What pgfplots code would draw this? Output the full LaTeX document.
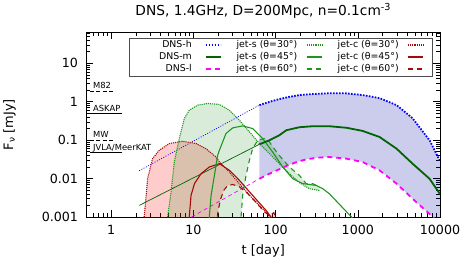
\documentclass[border=0pt]{standalone}
\usepackage{fontspec}
\setmainfont{DejaVu Sans}
\usepackage{pgfplots}
\pgfplotsset{compat=1.18}
\definecolor{dnsh}{RGB}{0,0,255}
\definecolor{dnsm}{RGB}{0,100,0}
\definecolor{dnsl}{RGB}{255,0,255}
\definecolor{jets}{RGB}{30,150,30}
\definecolor{jetc}{RGB}{165,10,10}
\definecolor{lav}{RGB}{0,0,160}
\begin{document}
\begin{tikzpicture}
\useasboundingbox (-86.5bp,-47bp) rectangle (376.5bp,217bp);
\begin{axis}[
  scale only axis, width=353.5bp, height=184.7bp,
  xmode=log, ymode=log, xmin=0.5, xmax=10000, ymin=0.001, ymax=64,
  log ticks with fixed point,
  /pgf/number format/assume math mode=true,
  /pgf/number format/precision=3,
  /pgf/number format/1000 sep={},
  tick label style={font=\fontsize{12.7}{14}\selectfont},
  xticklabel style={yshift=-5bp},
  yticklabel style={xshift=-5bp},
  major tick length=7bp, minor tick length=4bp,
  axis line style={line width=0.8bp},
  every tick/.style={black, line width=0.6bp},
  title={DNS, 1.4GHz, D=200Mpc, n=0.1cm\textsuperscript{-3}},
  every axis title/.style={at={(axis description cs:0.5,1.0883)}, anchor=base, font=\fontsize{13.8}{16}\selectfont},
  xlabel={t [day]},
  xlabel style={at={(axis description cs:0.5,-0.184)}, anchor=center, font=\fontsize{13}{15}\selectfont},
  ylabel={F\textsubscript{ν} [mJy]},
  ylabel style={at={(axis description cs:-0.218,0.5)}, anchor=center, font=\fontsize{13}{15}\selectfont},
  legend columns=3,
  legend plot pos=right,
  legend style={at={(rel axis cs:0.9774,0.969)}, anchor=north east, draw=black!70, line width=0.5bp,
    font=\fontsize{9.4}{9.4}\selectfont, inner xsep=8bp, inner ysep=0.75bp, row sep=0bp,
    nodes={inner xsep=0bp, inner ysep=1.25bp, text height=7bp, text depth=2.5bp},
    /tikz/every odd column/.append style={column sep=8bp},
    /tikz/every even column/.append style={column sep=15bp}},
  legend image code/.code={\draw[#1] (0bp,0bp) -- (15bp,0bp);},
]
% legend
\addlegendimage{dnsh, line width=1.8bp, dash pattern=on 1.6bp off 1.4bp}
\addlegendentry{\makebox[60bp][r]{DNS-h\hspace*{5bp}}}
\addlegendimage{jets, line width=1.1bp, densely dotted}
\addlegendentry{\makebox[62bp][l]{jet-s (θ=30°)}}
\addlegendimage{jetc, line width=1.1bp, densely dotted}
\addlegendentry{\makebox[62bp][l]{jet-c (θ=30°)}}
\addlegendimage{dnsm, line width=1.8bp}
\addlegendentry{\makebox[60bp][r]{DNS-m\hspace*{5bp}}}
\addlegendimage{jets, line width=1.1bp}
\addlegendentry{\makebox[62bp][l]{jet-s (θ=45°)}}
\addlegendimage{jetc, line width=1.1bp}
\addlegendentry{\makebox[62bp][l]{jet-c (θ=45°)}}
\addlegendimage{dnsl, line width=1.8bp, dash pattern=on 5bp off 4bp}
\addlegendentry{\makebox[60bp][r]{DNS-l\hspace*{5bp}}}
\addlegendimage{jets, line width=1.1bp, dash pattern=on 5bp off 4bp}
\addlegendentry{\makebox[62bp][l]{jet-s (θ=60°)}}
\addlegendimage{jetc, line width=1.1bp, dash pattern=on 5bp off 4bp}
\addlegendentry{\makebox[62bp][l]{jet-c (θ=60°)}}

% DNS band
\addplot[draw=none, fill=lav, fill opacity=0.2, forget plot] coordinates {
(63.5,0.815) (85,1.0) (111,1.17) (150,1.35) (200,1.5) (281,1.58) (450,1.66) (728,1.65) (1140,1.49) (1837,1.24) (2960,0.815) (4630,0.373) (7460,0.099) (9890,0.030) (10000,0.028)
(10000,0.0006) (8800,0.00085) (7460,0.0012) (4630,0.0030) (2960,0.0074) (1837,0.0164) (1140,0.027) (728,0.033) (452,0.0364) (320,0.035) (237,0.0317) (180,0.027) (135,0.0212) (111,0.0175) (85,0.0135) (63.5,0.0099)};
% jet-c band
\addplot[draw=none, fill=red, fill opacity=0.2, forget plot] coordinates {
(2.45,0.0006) (2.52,0.001) (2.77,0.0099) (3.18,0.033) (3.84,0.0545) (5.09,0.0815) (7.38,0.0936) (10.8,0.0815) (14.2,0.060) (18.8,0.0364) (20.7,0.027) (27.4,0.0148) (36.2,0.0074) (52.6,0.0030) (76.6,0.00133) (84,0.001) (88,0.0008)
(105,0.0008) (95,0.0013) (85,0.0011) (75,0.0013) (65,0.0018) (55,0.0027) (45,0.0042) (36,0.0062) (30,0.007) (26,0.0065) (23.5,0.005) (21.5,0.003) (20,0.0015) (19.3,0.0008) (19,0.0006)};
% jet-s band
\addplot[draw=none, fill=green!50!black, fill opacity=0.15, forget plot] coordinates {
(4.8,0.0006) (4.85,0.001) (5.34,0.0044) (5.85,0.027) (6.73,0.110) (7.75,0.366) (8.9,0.60) (11.3,0.815) (14.9,0.90) (20.7,0.85) (27.4,0.60) (36.2,0.33) (48,0.164) (63.5,0.0815) (84,0.0447) (111,0.0245) (147,0.0134) (195,0.0078) (258,0.00545) (342,0.0049)
(342,0.006) (281,0.0074) (235,0.0074) (195,0.0121) (147,0.020) (106,0.0447) (84,0.090) (73,0.110) (60.5,0.099) (52.6,0.060) (48,0.030) (43.7,0.0121) (39.7,0.00364) (38,0.001) (37.5,0.0006)};

% DNS thin parts
\addplot[dnsh, line width=0.7bp, dash pattern=on 1bp off 1.5bp, forget plot] coordinates {(2.19,0.016) (63.5,0.815)};
\addplot[dnsm, line width=0.7bp, forget plot] coordinates {(2.19,0.002) (63.5,0.078)};
\addplot[dnsl, line width=0.7bp, dash pattern=on 4bp off 3bp, forget plot] coordinates {(9.5,0.001) (63.5,0.0099)};

% jet-c
\addplot[jetc, line width=1.1bp, densely dotted, forget plot] coordinates {
(2.45,0.0006) (2.52,0.001) (2.77,0.0099) (3.18,0.033) (3.84,0.0545) (5.09,0.0815) (7.38,0.0936) (10.8,0.0815) (14.2,0.060) (18.8,0.0364) (20.7,0.027) (27.4,0.0148) (36.2,0.0074) (52.6,0.0030) (76.6,0.00133) (84,0.001) (88,0.0008)};
\addplot[jetc, line width=1.1bp, forget plot] coordinates {
(8.85,0.0008) (8.9,0.001) (9.35,0.00364) (10.3,0.0074) (12.4,0.0134) (15.6,0.020) (20.7,0.0245) (27.4,0.0164) (36.2,0.009) (52.6,0.00364) (76.6,0.00148) (88,0.001) (92,0.0008)};
\addplot[jetc, line width=1.1bp, dash pattern=on 5bp off 4bp, forget plot] coordinates {
(19,0.0006) (19.3,0.0008) (20,0.0015) (21.5,0.003) (23.5,0.005) (26,0.0065) (30,0.007) (36,0.0062) (45,0.0042) (55,0.0027) (65,0.0018) (75,0.0013) (85,0.0011) (95,0.0013) (105,0.0008)};

% jet-s
\addplot[jets, line width=1.1bp, densely dotted, forget plot] coordinates {
(4.8,0.0006) (4.85,0.001) (5.34,0.0044) (5.85,0.027) (6.73,0.110) (7.75,0.366) (8.9,0.60) (11.3,0.815) (14.9,0.90) (20.7,0.85) (27.4,0.60) (36.2,0.33) (48,0.164) (63.5,0.0815) (84,0.0447) (111,0.0245) (147,0.0134) (195,0.0078) (258,0.00545) (342,0.0049)};
\addplot[jets, line width=1.1bp, forget plot] coordinates {
(15.4,0.0007) (15.6,0.001) (16.4,0.00364) (18.0,0.0121) (19.7,0.040) (20.7,0.0545) (24.9,0.149) (30,0.208) (39.7,0.235) (52.6,0.20) (69.6,0.110) (92,0.049) (122,0.020) (162,0.0099) (214,0.0074) (311,0.00664) (375,0.00545) (452,0.0040) (838,0.001) (870,0.0009)};
\addplot[jets, line width=1.1bp, dash pattern=on 5bp off 4bp, forget plot] coordinates {
(37.5,0.0006) (38,0.001) (39.7,0.00364) (43.7,0.0121) (48,0.030) (52.6,0.060) (60.5,0.099) (73,0.110) (84,0.090) (106,0.0447) (147,0.020) (195,0.0121) (235,0.0074) (281,0.0074) (342,0.006)};

% DNS thick parts
\addplot[dnsh, line width=1.8bp, dash pattern=on 1.6bp off 1.4bp, forget plot] coordinates {
(63.5,0.815) (85,1.0) (111,1.17) (150,1.35) (200,1.5) (281,1.58) (450,1.66) (728,1.65) (1140,1.49) (1837,1.24) (2960,0.815) (4630,0.373) (7460,0.099) (9890,0.030) (10000,0.028)};
\addplot[dnsm, line width=1.8bp, forget plot] coordinates {
(63.5,0.078) (84,0.099) (111,0.134) (135,0.181) (195,0.217) (281,0.23) (452,0.23) (728,0.21) (1140,0.174) (1837,0.121) (2960,0.060) (4630,0.0245) (7460,0.0099) (9890,0.0041) (10000,0.0039)};
\addplot[dnsl, line width=1.8bp, dash pattern=on 5bp off 4bp, forget plot] coordinates {
(63.5,0.0099) (85,0.0135) (111,0.0175) (135,0.0212) (180,0.027) (237,0.0317) (320,0.035) (452,0.0364) (728,0.033) (1140,0.027) (1837,0.0164) (2960,0.0074) (4630,0.0030) (7460,0.0012) (8800,0.00085) (10000,0.0006)};

% sensitivities
\addplot[black, line width=1.1bp, dash pattern=on 4bp off 2.5bp, forget plot] coordinates {(0.55,1.81) (1.11,1.81)};
\addplot[black, line width=1.1bp, forget plot] coordinates {(0.55,0.495) (1.37,0.495)};
\addplot[black, line width=1.1bp, dash pattern=on 4bp off 2.5bp, forget plot] coordinates {(0.55,0.1) (1.11,0.1)};
\addplot[black, line width=1.1bp, forget plot] coordinates {(0.55,0.047) (1.37,0.047)};
\node[anchor=base west, inner sep=0pt, yshift=3bp, font=\fontsize{8.4}{9}\selectfont] at (axis cs:0.6,1.81) {M82};
\node[anchor=base west, inner sep=0pt, yshift=2bp, font=\fontsize{8.4}{9}\selectfont] at (axis cs:0.6,0.495) {ASKAP};
\node[anchor=base west, inner sep=0pt, yshift=2.5bp, font=\fontsize{8.4}{9}\selectfont] at (axis cs:0.6,0.1) {MW};
\node[anchor=base west, inner sep=0pt, yshift=2bp, font=\fontsize{8.4}{9}\selectfont] at (axis cs:0.6,0.047) {JVLA/MeerKAT};
\end{axis}
\end{tikzpicture}
\end{document}
